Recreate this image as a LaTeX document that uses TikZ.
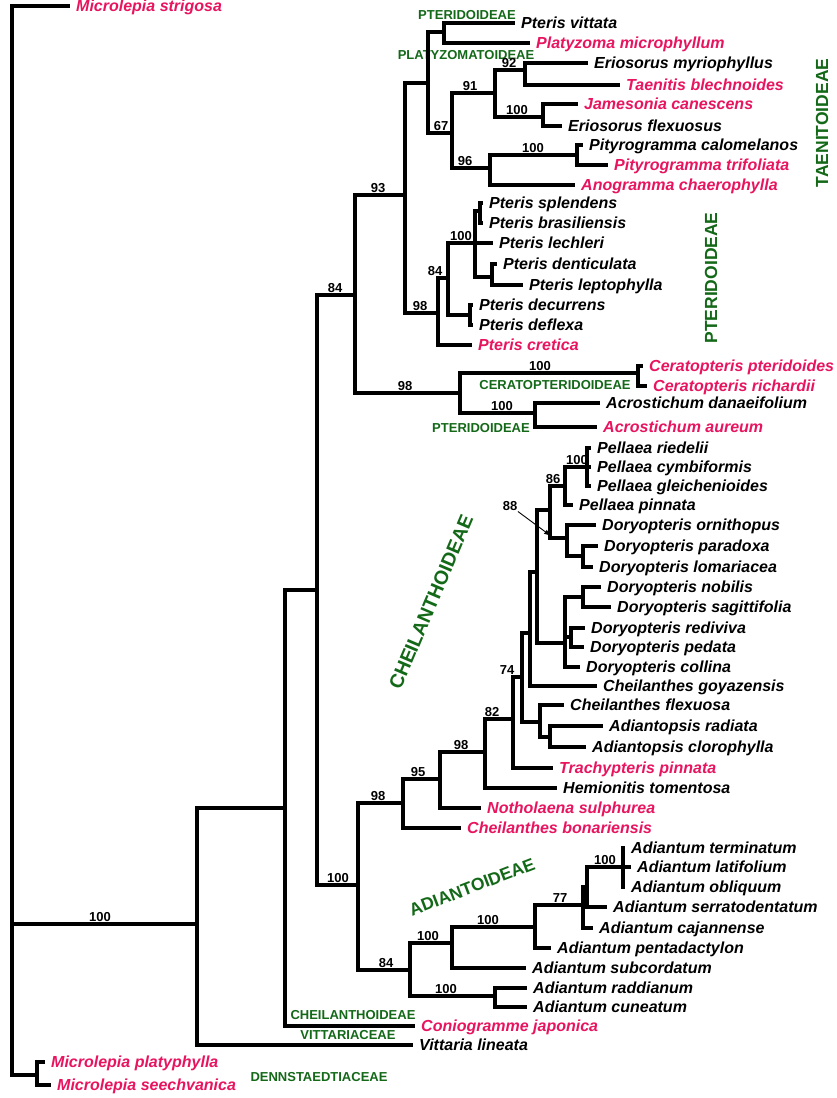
\documentclass[tikz,border=0pt]{standalone}
\usepackage{fontspec}
\setmainfont{Liberation Sans}
\usetikzlibrary{arrows.meta}
\definecolor{taxpink}{RGB}{232,20,95}
\definecolor{cladegreen}{RGB}{20,105,25}

\begin{document}
\begin{tikzpicture}[x=1pt, y=-1pt,
  br/.style={line width=4.4pt, line join=miter},
  tax/.style={anchor=west, inner xsep=6pt, inner ysep=0pt, text height=11.5pt, text depth=0pt,
    font=\fontsize{16}{16}\selectfont\bfseries\itshape},
  taxr/.style={tax, text=taxpink},
  boot/.style={anchor=south, yshift=1.5pt, inner sep=0.5pt, font=\fontsize{13}{13}\selectfont\bfseries},
  grp/.style={text=cladegreen, inner sep=0pt, font=\fontsize{13}{13}\selectfont\bfseries},
  bigrp/.style={text=cladegreen, inner sep=0pt, font=\fontsize{17.5}{17.5}\selectfont\bfseries}]
\path[use as bounding box, fill=white] (0,0) rectangle (836,1098);

% internal nodes
\coordinate (R) at (12,924);
\coordinate (MP) at (37,1075);
\coordinate (A) at (197,924);
\coordinate (B) at (285,808);
\coordinate (C) at (317,590);
\coordinate (D) at (355,295);
\coordinate (F) at (405,195);
\coordinate (G) at (428,83);
\coordinate (I) at (444,32);
\coordinate (J) at (452,133);
\coordinate (K) at (495,93);
\coordinate (M) at (525,70);
\coordinate (N) at (543,117);
\coordinate (L) at (490,168);
\coordinate (O) at (577,155);
\coordinate (H) at (438,313);
\coordinate (P) at (448,278);
\coordinate (Q) at (475,243);
\coordinate (SB) at (480,211);
\coordinate (DL) at (492,277);
\coordinate (RD) at (470,315);
\coordinate (S) at (460,393);
\coordinate (T) at (638,373);
\coordinate (U) at (535,413);
\coordinate (E) at (358,885);
\coordinate (V) at (403,803);
\coordinate (X) at (440,779);
\coordinate (Y) at (485,752);
\coordinate (Z) at (513,719);
\coordinate (AA) at (522,677);
\coordinate (AB) at (530,633);
\coordinate (AF) at (537,572);
\coordinate (NE) at (550,510);
\coordinate (NF) at (565,486);
\coordinate (PT) at (587,467);
\coordinate (DT) at (567,538);
\coordinate (PL) at (583,556);
\coordinate (AE) at (565,643);
\coordinate (NS) at (583,597);
\coordinate (RP) at (571,637);
\coordinate (AC) at (540,722);
\coordinate (AD) at (550,737);
\coordinate (W) at (410,970);
\coordinate (AG) at (452,943);
\coordinate (AI) at (535,927);
\coordinate (AJ) at (583,905);
\coordinate (AK) at (587,887);
\coordinate (AT) at (623,867);
\coordinate (AH) at (495,996);
\coordinate (arr) at (551,536);

% taxa
\node[taxr] (strig) at (70,6) {Microlepia strigosa};
\node[tax] (vitt) at (515,23) {Pteris vittata};
\node[taxr] (platy) at (530,43) {Platyzoma microphyllum};
\node[tax] (emyr) at (588,63) {Eriosorus myriophyllus};
\node[taxr] (taen) at (620,85) {Taenitis blechnoides};
\node[taxr] (james) at (578,104) {Jamesonia canescens};
\node[tax] (eflex) at (562,126) {Eriosorus flexuosus};
\node[tax] (pcal) at (583,145) {Pityrogramma calomelanos};
\node[taxr] (ptri) at (608,165) {Pityrogramma trifoliata};
\node[taxr] (anog) at (575,185) {Anogramma chaerophylla};
\node[tax] (splen) at (483,203) {Pteris splendens};
\node[tax] (bras) at (483,223) {Pteris brasiliensis};
\node[tax] (lech) at (493,243) {Pteris lechleri};
\node[tax] (dent) at (497,264) {Pteris denticulata};
\node[tax] (lept) at (523,285) {Pteris leptophylla};
\node[tax] (decur) at (473,305) {Pteris decurrens};
\node[tax] (defl) at (473,325) {Pteris deflexa};
\node[taxr] (cret) at (472,345) {Pteris cretica};
\node[taxr] (cpter) at (643,366) {Ceratopteris pteridoides};
\node[taxr] (crich) at (647,386) {Ceratopteris richardii};
\node[tax] (adan) at (600,403) {Acrostichum danaeifolium};
\node[taxr] (aaur) at (597,427) {Acrostichum aureum};
\node[tax] (pried) at (591,448) {Pellaea riedelii};
\node[tax] (pcymb) at (591,467) {Pellaea cymbiformis};
\node[tax] (pgle) at (591,486) {Pellaea gleichenioides};
\node[tax] (ppin) at (573,505) {Pellaea pinnata};
\node[tax] (dorn) at (596,525) {Doryopteris ornithopus};
\node[tax] (dpar) at (598,546) {Doryopteris paradoxa};
\node[tax] (dlom) at (593,567) {Doryopteris lomariacea};
\node[tax] (dnob) at (601,587) {Doryopteris nobilis};
\node[tax] (dsag) at (611,607) {Doryopteris sagittifolia};
\node[tax] (dred) at (585,628) {Doryopteris rediviva};
\node[tax] (dped) at (584,647) {Doryopteris pedata};
\node[tax] (dcol) at (580,667) {Doryopteris collina};
\node[tax] (cgoy) at (597,686) {Cheilanthes goyazensis};
\node[tax] (cflex) at (564,705) {Cheilanthes flexuosa};
\node[tax] (arad) at (603,726) {Adiantopsis radiata};
\node[tax] (aclo) at (586,747) {Adiantopsis clorophylla};
\node[taxr] (trach) at (553,768) {Trachypteris pinnata};
\node[tax] (hemi) at (557,788) {Hemionitis tomentosa};
\node[taxr] (notho) at (481,808) {Notholaena sulphurea};
\node[taxr] (cbon) at (461,828) {Cheilanthes bonariensis};
\node[tax] (aterm) at (625,848) {Adiantum terminatum};
\node[tax] (alat) at (631,867) {Adiantum latifolium};
\node[tax] (aobl) at (625,887) {Adiantum obliquum};
\node[tax] (aser) at (607,907) {Adiantum serratodentatum};
\node[tax] (acaj) at (593,928) {Adiantum cajannense};
\node[tax] (apen) at (551,948) {Adiantum pentadactylon};
\node[tax] (asub) at (526,968) {Adiantum subcordatum};
\node[tax] (araddi) at (527,988) {Adiantum raddianum};
\node[tax] (acun) at (527,1007) {Adiantum cuneatum};
\node[taxr] (conio) at (415,1026) {Coniogramme japonica};
\node[tax] (vitta) at (413,1045) {Vittaria lineata};
\node[taxr] (mplat) at (45,1062) {Microlepia platyphylla};
\node[taxr] (mseech) at (51,1085) {Microlepia seechvanica};

% groups
\node[grp] (gPter1) at (467,15) {PTERIDOIDEAE};
\node[grp] (gPlat) at (466,55) {PLATYZOMATOIDEAE};
\node[bigrp, rotate=90] (gTaen) at (822,123) {TAENITOIDEAE};
\node[bigrp, rotate=90] (gPter2) at (711,278) {PTERIDOIDEAE};
\node[grp] (gCera) at (555,385) {CERATOPTERIDOIDEAE};
\node[grp] (gPter3) at (481,428) {PTERIDOIDEAE};
\node[bigrp, rotate=67, font=\fontsize{19.5}{19.5}\selectfont\bfseries] (gChei1) at (431,602) {CHEILANTHOIDEAE};
\node[bigrp, rotate=21] (gAdia) at (472,887) {ADIANTOIDEAE};
\node[grp] (gChei2) at (353,1015) {CHEILANTHOIDEAE};
\node[grp] (gVitt) at (348,1035) {VITTARIACEAE};
\node[grp] (gDenn) at (319,1077) {DENNSTAEDTIACEAE};

% bootstrap values
\node[boot] (b100r) at (100,924) {100};
\node[boot] (b84c) at (335,295) {84};
\node[boot] (b93) at (378,195) {93};
\node[boot] (b98f) at (420,313) {98};
\node[boot] (b67) at (441,133) {67};
\node[boot] (b91) at (470,93) {91};
\node[boot] (b92) at (509,70) {92};
\node[boot] (b100n) at (517,117) {100};
\node[boot] (b96) at (465,168) {96};
\node[boot] (b100o) at (533,155) {100};
\node[boot] (b84p) at (435,278) {84};
\node[boot] (b100q) at (461,243) {100};
\node[boot] (b98s) at (405,393) {98};
\node[boot] (b100t) at (540,373) {100};
\node[boot] (b100u) at (502,413) {100};
\node[boot] (b100e) at (338,885) {100};
\node[boot] (b98v) at (378,803) {98};
\node[boot] (b95) at (418,779) {95};
\node[boot] (b98y) at (461,752) {98};
\node[boot] (b82) at (492,719) {82};
\node[boot] (b74) at (507,677) {74};
\node[boot] (b86) at (553,486) {86};
\node[boot] (b100pt) at (577,467) {100};
\node[boot] (b88) at (510,513) {88};
\node[boot] (b84w) at (386,970) {84};
\node[boot] (b100ag) at (428,943) {100};
\node[boot] (b100ai) at (488,927) {100};
\node[boot] (b77) at (560,905) {77};
\node[boot] (b100at) at (605,867) {100};
\node[boot] (b100ah) at (446,996) {100};

\draw[-{Latex[length=7pt,width=5pt]}, line width=0.9pt] (b88.south east) -- (arr);

% branches
\foreach \p/\c in {R/strig, R/A, R/MP, MP/mplat, MP/mseech, A/B, A/vitta, B/C, B/conio,
    C/D, C/E, D/F, D/S, F/G, F/H, G/I, G/J, I/vitt, I/platy, J/K, J/L, K/M, K/N,
    M/emyr, M/taen, N/james, N/eflex, L/O, L/anog, O/pcal, O/ptri,
    H/P, H/cret, P/Q, P/RD, Q/SB, Q/lech, Q/DL, SB/splen, SB/bras, DL/dent, DL/lept,
    RD/decur, RD/defl, S/T, S/U, T/cpter, T/crich, U/adan, U/aaur,
    E/V, E/W, V/X, V/cbon, X/Y, X/notho, Y/Z, Y/hemi, Z/AA, Z/trach, AA/AB, AA/AC,
    AB/AF, AB/cgoy, AF/NE, AF/AE, NE/NF, NE/DT, NF/PT, NF/ppin, PT/pried, PT/pcymb, PT/pgle,
    DT/dorn, DT/PL, PL/dpar, PL/dlom, AE/NS, AE/RP, AE/dcol, NS/dnob, NS/dsag, RP/dred, RP/dped,
    AC/cflex, AC/AD, AD/arad, AD/aclo,
    W/AG, W/AH, AG/AI, AG/asub, AI/AJ, AI/apen, AJ/AK, AJ/acaj, AK/AT, AK/aser,
    AT/aterm, AT/alat, AT/aobl, AH/araddi, AH/acun}
  \draw[br] (\p) |- (\c);
\end{tikzpicture}
\end{document}
